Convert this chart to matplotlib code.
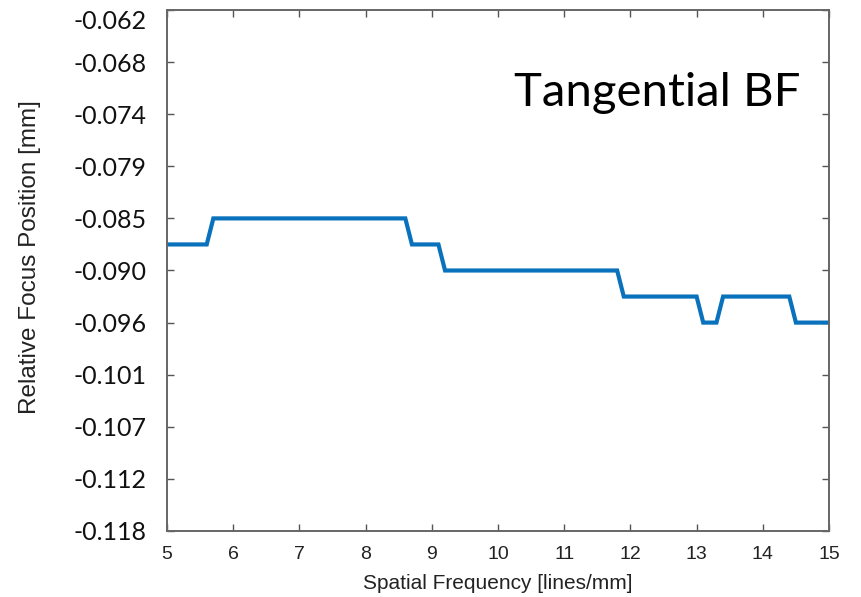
import matplotlib
matplotlib.use("Agg")
import matplotlib.pyplot as plt
import numpy as np

freq = [5.0, 5.6, 5.7, 8.6, 8.7, 9.1, 9.2, 11.8, 11.9, 13.0, 13.1, 13.3, 13.4, 14.4, 14.5, 15.0]
focus = [-0.0872, -0.0872, -0.0844, -0.0844, -0.0872, -0.0872, -0.0900, -0.0900,
         -0.0928, -0.0928, -0.0956, -0.0956, -0.0928, -0.0928, -0.0956, -0.0956]
ytick_labels = ["-0.062", "-0.068", "-0.074", "-0.079", "-0.085", "-0.090",
                "-0.096", "-0.101", "-0.107", "-0.112", "-0.118"]
xtick_values = [5, 6, 7, 8, 9, 10, 11, 12, 13, 14, 15]

fig = plt.figure(figsize=(8.61, 5.97), dpi=100)
ax = fig.add_axes([167/861, 1 - 531/597, (829-167)/861, (531-10)/597])

ax.plot(freq, focus, color="#0a72bd", lw=3.0, solid_joinstyle="miter")
ax.set_xlim(5, 15)
ax.set_ylim(-0.118, -0.062)

yt = np.linspace(-0.062, -0.118, len(ytick_labels))
ax.set_yticks(yt)
ax.set_yticklabels(ytick_labels, fontfamily="Lato", fontsize=18, color="#111111")
ax.set_xticks(xtick_values)
ax.set_xticklabels([str(v) for v in xtick_values], fontfamily="Liberation Sans", fontsize=14, color="#222222")

ax.tick_params(axis="both", direction="in", length=5, width=1.0, color="#555555",
               top=True, right=True)
ax.tick_params(axis="y", pad=15)
ax.tick_params(axis="x", pad=11)
ax.get_yticklabels()[0].set_va("top")

for s in ax.spines.values():
    s.set_color("#666666")
    s.set_linewidth(1.4)

ax.set_xlabel("Spatial Frequency [lines/mm]", fontfamily="Liberation Sans", fontsize=15,
              color="#222222", labelpad=8)
ax.set_ylabel("Relative Focus Position [mm]", fontfamily="Liberation Sans", fontsize=17.5,
              color="#222222")
ax.yaxis.set_label_coords(-0.19, 0.525)

fig.text(657/861, 1 - 93/597, "Tangential BF", fontfamily="Lato", fontsize=34,
         ha="center", va="center", color="black")

fig.savefig("out.png", dpi=100)
